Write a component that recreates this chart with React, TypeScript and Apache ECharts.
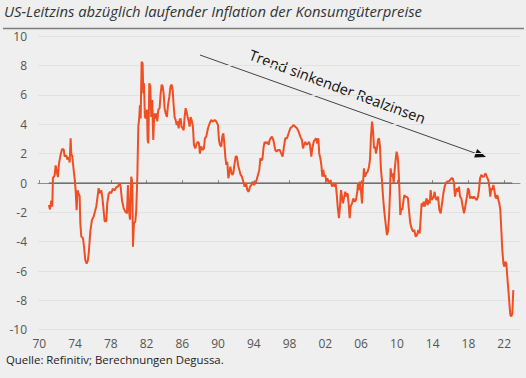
import React, { useEffect, useRef } from "react";
import * as echarts from "echarts";

const titleText = "US-Leitzins abzüglich laufender Inflation der Konsumgüterpreise";
const sourceText = "Quelle: Refinitiv; Berechnungen Degussa.";
const trendText = "Trend sinkender Realzinsen";

const xTickYears = [1970, 1974, 1978, 1982, 1986, 1990, 1994, 1998, 2002, 2006, 2010, 2014, 2018, 2022];
const yTicks = [-10, -8, -6, -4, -2, 0, 2, 4, 6, 8, 10];

const years = [
  1971.08, 1971.2, 1971.35, 1971.46, 1971.53, 1971.72, 1971.83, 1971.98, 1972.09, 1972.2, 1972.35, 1972.54, 1972.73, 1972.84,
  1973.02, 1973.14, 1973.29, 1973.4, 1973.51, 1973.58, 1973.7, 1973.81, 1973.96, 1974.07, 1974.18, 1974.29, 1974.4, 1974.52,
  1974.59, 1974.7, 1974.89, 1975.0, 1975.15, 1975.3, 1975.45, 1975.56, 1975.71, 1975.9, 1976.08, 1976.23, 1976.38, 1976.53,
  1976.64, 1976.79, 1976.94, 1977.05, 1977.16, 1977.31, 1977.5, 1977.61, 1977.76, 1977.91, 1978.06, 1978.21, 1978.43, 1978.65,
  1978.8, 1978.99,
  1979.1, 1979.25, 1979.44, 1979.62, 1979.81, 1979.92, 1980.03, 1980.15, 1980.29, 1980.41, 1980.48, 1980.59, 1980.74, 1980.85,
  1980.97, 1981.08, 1981.19, 1981.26, 1981.34, 1981.45, 1981.56, 1981.64, 1981.71, 1981.82, 1981.93, 1982.05, 1982.12, 1982.2,
  1982.31, 1982.42, 1982.53, 1982.64, 1982.75, 1982.87, 1982.98, 1983.09, 1983.2, 1983.32, 1983.46, 1983.58, 1983.69, 1983.8,
  1983.91, 1984.02, 1984.14, 1984.28, 1984.4, 1984.55, 1984.69, 1984.81, 1984.92, 1985.03, 1985.14, 1985.25, 1985.37, 1985.48,
  1985.59, 1985.7, 1985.81, 1985.92, 1986.04, 1986.15, 1986.26, 1986.37, 1986.48, 1986.6, 1986.71, 1986.82, 1986.93, 1987.04,
  1987.19, 1987.3, 1987.45, 1987.6, 1987.75,
  1987.86, 1987.97, 1988.12, 1988.27, 1988.42, 1988.53, 1988.68, 1988.87, 1989.06, 1989.24, 1989.43, 1989.62, 1989.8, 1989.99,
  1990.1, 1990.21, 1990.36, 1990.47, 1990.59, 1990.7, 1990.81, 1990.92, 1991.03, 1991.15, 1991.26, 1991.37, 1991.48, 1991.59,
  1991.7, 1991.85, 1991.97, 1992.11, 1992.23, 1992.38, 1992.53, 1992.67, 1992.82, 1992.97, 1993.12, 1993.27, 1993.42, 1993.57,
  1993.72, 1993.87, 1994.02, 1994.17, 1994.31, 1994.46, 1994.61, 1994.73, 1994.84, 1994.95, 1995.1, 1995.21, 1995.36, 1995.51,
  1995.66, 1995.77, 1995.88, 1996.03, 1996.18, 1996.29, 1996.4, 1996.55, 1996.7,
  1996.89, 1997.07, 1997.22, 1997.37, 1997.52, 1997.71, 1997.89, 1998.08, 1998.27, 1998.45, 1998.64, 1998.83, 1999.01, 1999.2,
  1999.38, 1999.5, 1999.61, 1999.76, 1999.91, 2000.06, 2000.17, 2000.28, 2000.43, 2000.54, 2000.69, 2000.8, 2000.95, 2001.1,
  2001.21, 2001.32, 2001.44, 2001.55, 2001.66, 2001.77, 2001.88, 2001.99, 2002.11, 2002.22, 2002.33, 2002.48, 2002.59, 2002.74,
  2002.89, 2003.04, 2003.15, 2003.26, 2003.41, 2003.52, 2003.64, 2003.75, 2003.86, 2003.97, 2004.12, 2004.23, 2004.34, 2004.49,
  2004.6, 2004.72, 2004.83, 2004.98, 2005.13, 2005.28, 2005.42, 2005.57,
  2005.65, 2005.76, 2005.87, 2005.98, 2006.1, 2006.21, 2006.32, 2006.43, 2006.58, 2006.73, 2006.88, 2006.99, 2007.1, 2007.22,
  2007.33, 2007.44, 2007.55, 2007.66, 2007.77, 2007.89, 2008.0, 2008.11, 2008.22, 2008.33, 2008.45, 2008.56, 2008.67, 2008.78,
  2008.89, 2009.0, 2009.12, 2009.23, 2009.3, 2009.41, 2009.53, 2009.64, 2009.75, 2009.86, 2009.97, 2010.09, 2010.16, 2010.27,
  2010.38, 2010.5, 2010.61, 2010.72, 2010.83, 2010.94, 2011.09, 2011.24, 2011.35, 2011.5, 2011.65, 2011.8, 2011.95, 2012.1,
  2012.25, 2012.4, 2012.55, 2012.66, 2012.77, 2012.88, 2012.99, 2013.11, 2013.22, 2013.33, 2013.44, 2013.55, 2013.67, 2013.78,
  2013.89, 2014.0, 2014.11, 2014.22, 2014.34, 2014.45, 2014.6,
  2014.75, 2014.9, 2015.05, 2015.2, 2015.34, 2015.49, 2015.64, 2015.79, 2015.94, 2016.09, 2016.24, 2016.39, 2016.5, 2016.61,
  2016.72, 2016.83, 2016.95, 2017.06, 2017.21, 2017.36, 2017.51, 2017.62, 2017.73, 2017.84, 2017.95, 2018.06, 2018.18, 2018.33,
  2018.48, 2018.62, 2018.77, 2018.92, 2019.07, 2019.18, 2019.3, 2019.44, 2019.59, 2019.74, 2019.89, 2020.0, 2020.12, 2020.23,
  2020.34, 2020.45, 2020.56, 2020.67, 2020.79, 2020.9, 2021.01, 2021.12, 2021.23, 2021.35, 2021.46, 2021.57, 2021.68, 2021.79,
  2021.91, 2022.02, 2022.13, 2022.24, 2022.35, 2022.47, 2022.58, 2022.69, 2022.8, 2022.91, 2023.02,
];

const realRates = [
  -1.5, -1.8, -1.2, -1.6, 0.35, 0.5, 1.2, 0.7, 0.4, 1.3, 1.8, 2.3, 2.3, 1.8,
  1.9, 1.6, 1.75, 1.4, 3.05, 2.0, 1.8, 1.1, 0.3, -0.5, -1.85, -0.5, -0.7, -0.9,
  -2.7, -3.65, -3.75, -4.3, -5.25, -5.5, -5.25, -4.6, -3.3, -2.5, -2.3, -1.95, -1.6, -0.9,
  -0.35, -0.7, -0.5, -0.95, -1.6, -2.6, -2.6, -1.35, -0.75, -0.6, -0.7, -0.4, -0.5, -0.25,
  -0.25, 0.0,
  -0.25, -1.16, -1.73, -1.95, -2.07, -0.14, -1.84, -2.5, 0.43, 0, -4.34, -2.75, -2.64, -1.84,
  0.43, 3.84, 4.5, 5.3, 4.4, 8.27, 8.16, 6.1, 6.8, 4.5, 4.4, 5.0, 2.93, 2.7,
  6.8, 6.6, 4.5, 5.66, 2.93, 4.75, 4.4, 4.75, 4.2, 5.0, 5.1, 6.1, 6.7, 6.6,
  6.1, 5.1, 4.75, 4.5, 5.3, 5.9, 6.6, 6.7, 6.35, 5.3, 4.5, 4.3, 3.95, 4.2,
  3.73, 4.3, 4.4, 3.84, 3.73, 3.6, 4.5, 5.1, 4.86, 4.5, 4.2, 3.84, 4.5, 4.3,
  3.84, 2.6, 2.36, 2.7, 2.8,
  2.7, 2.0, 2.5, 2.25, 2.36, 3.05, 3.16, 3.73, 4.07, 4.3, 4.2, 4.3, 4.2, 3.95,
  2.93, 2.6, 2.48, 3.16, 3.39, 2.7, 1.8, 1.23, 1.45, 0.32, 0.66, 1.11, 0.77, 0.55,
  0.66, 1.34, 1.8, 1.8, 1.23, 0.89, 0.55, 0.43, 0.1, -0.25, 0, -0.48, -0.6, -0.25,
  -0.14, 0.1, -0.14, 0, 0.2, 0.55, 0.89, 1.68, 1.57, 1.57, 2.48, 2.8, 2.7, 2.8,
  2.6, 2.93, 3.05, 3.16, 2.93, 2.6, 2.25, 2.14, 2.25,
  2.25, 2.0, 1.8, 2.48, 3.05, 3.05, 3.39, 3.73, 3.84, 3.95, 3.84, 3.73, 3.5, 3.16,
  2.93, 2.36, 2.6, 2.8, 2.6, 2.7, 2.8, 2.6, 1.8, 2.36, 2.8, 2.93, 3.05, 2.7,
  3.05, 2.0, 1.68, 1.23, 0.43, 0.89, 0.43, 0.55, 0.1, 0.32, 0.1, 0, 0.2, -0.25,
  0, -0.25, 0, -0.7, -1.84, -2.4, -1.6, -0.48, -0.93, -1.39, -0.93, -0.6, -0.93, -0.7,
  -1.39, -2.4, -1.6, -1.39, -1.05, -1.27, -1.16, -0.6,
  0, -0.48, 0.1, -0.48, -1.39, 0, 1.0, 0.43, 0.66, 0.77, 1.11, 1.57, 3.16, 4.18,
  3.61, 2.36, 2.48, 2.0, 2.36, 2.93, 3.05, 2.48, 0.89, 0.2, -0.93, -1.73, -2.4, -2.98,
  -3.55, -3.32, -2.3, -0.7, 1.0, 0.43, 0.66, 0, 0.89, 1.57, 2.14, 1.8, 1.23, -0.25,
  -2.18, -1.73, -1.84, -1.27, -0.82, -0.93, -0.93, -1.05, -1.84, -2.75, -3.1, -3.32, -3.2, -3.66,
  -3.55, -3.2, -3.43, -2.4, -1.39, -1.6, -1.27, -1.6, -1.27, -1.05, -1.5, -1.16, -1.39, -0.48,
  -1.16, -1.05, -0.93, -0.6, -1.05, -1.16, -0.93,
  -1.84, -2.07, -1.39, -0.7, -0.25, 0, 0.1, 0.1, 0.2, 0.32, 0.32, 0, -0.93, -0.6,
  -0.36, -0.6, -0.25, -0.93, -1.05, -1.6, -2.07, -1.73, -1.27, -0.93, -0.36, -0.48, -1.05, -0.93,
  -1.05, -0.93, -1.05, -1.16, -0.93, -0.48, 0.32, 0.55, 0.43, 0.43, 0.66, 0.55, 0.32, 0.2,
  -0.25, -0.93, -0.36, -0.48, -0.14, -0.48, -0.93, -1.05, -0.82, -1.16, -1.39, -1.84, -3.2, -4.57,
  -5.48, -5.7, -5.36, -5.48, -6.39, -7.3, -8.2, -9.0, -9.1, -8.9, -7.3,
];

const zeroLineYears = [1971.08, 2022.9];

export default function App() {
  const ref = useRef<HTMLDivElement>(null);

  useEffect(() => {
    if (!ref.current) return;
    const chart = echarts.init(ref.current, null, { renderer: "svg" });
    const seriesData = years.map((y, i) => [y, realRates[i]]);
    const zeroData = zeroLineYears.map((y) => [y, 0]);

    // arrow geometry (annotation)
    const x1 = 200, y1 = 55, tx = 486, ty = 157;
    const len = Math.hypot(tx - x1, ty - y1);
    const dx = (tx - x1) / len, dy = (ty - y1) / len;
    const hl = 11, hw = 4.5;
    const bx = tx - hl * dx, by = ty - hl * dy;
    const angle = Math.atan2(ty - y1, tx - x1) + 0.012;
    // label centre, offset perpendicular above the arrow line
    const along = 140, gap = 16.5;
    const cx = x1 + along * dx + gap * dy;
    const cy = y1 + along * dy - gap * dx;

    chart.setOption({
      animation: false,
      backgroundColor: "#eeefee",
      grid: { left: 38, right: 6, top: 36.3, bottom: 48.3, containLabel: false },
      xAxis: {
        type: "value",
        min: 1969.86,
        max: 2023.77,
        splitLine: { show: false },
        axisLine: { show: true, lineStyle: { color: "#8c8c8c", width: 1 } },
        axisTick: { show: true, inside: true, length: 3, customValues: xTickYears, lineStyle: { color: "#8c8c8c" } },
        axisLabel: {
          customValues: xTickYears,
          margin: 8,
          color: "#555",
          fontSize: 12,
          lineHeight: 12,
          fontFamily: "Open Sans",
          formatter: (v: number) => String(Math.round(v) % 100).padStart(2, "0"),
        },
      },
      yAxis: {
        type: "value",
        min: -10,
        max: 10,
        interval: 2,
        axisLine: { show: false },
        axisTick: { show: false },
        splitLine: { show: true, lineStyle: { color: "#e1e2e2", width: 1 } },
        axisLabel: { margin: 11, color: "#555", fontSize: 12, fontFamily: "Open Sans", customValues: yTicks },
      },
      series: [
        {
          type: "line",
          data: zeroData,
          symbol: "none",
          lineStyle: { color: "#555", width: 1 },
          z: 1,
          silent: true,
        },
        {
          type: "line",
          data: seriesData,
          symbol: "none",
          lineStyle: { color: "#f04e23", width: 2 },
          z: 2,
        },
      ],
      graphic: [
        {
          type: "text",
          left: 4,
          top: 3,
          style: { text: titleText, font: "italic 14.8px 'Open Sans'", fill: "#333" },
        },
        {
          type: "line",
          shape: { x1: 3, y1: 28.5, x2: 524, y2: 28.5 },
          style: { stroke: "#7d7d7d", lineWidth: 1.5 },
        },
        {
          type: "text",
          left: 6,
          top: 353,
          style: { text: sourceText, font: "11.4px 'Open Sans'", fill: "#222", lineHeight: 12 },
        },
        {
          type: "line",
          shape: { x1, y1, x2: bx, y2: by },
          style: { stroke: "#444", lineWidth: 1 },
        },
        {
          type: "polygon",
          shape: {
            points: [
              [tx, ty],
              [bx - hw * dy, by + hw * dx],
              [bx + hw * dy, by - hw * dx],
            ],
          },
          style: { fill: "#111" },
        },
        {
          type: "text",
          x: cx,
          y: cy,
          rotation: -angle,
          style: {
            text: trendText,
            font: "14.5px 'Open Sans'",
            fill: "#111",
            align: "center",
            verticalAlign: "middle",
          },
        },
      ],
    });
    return () => chart.dispose();
  }, []);

  return <div ref={ref} style={{ width: 526, height: 378, position: "absolute", left: 0, top: 0 }} />;
}
